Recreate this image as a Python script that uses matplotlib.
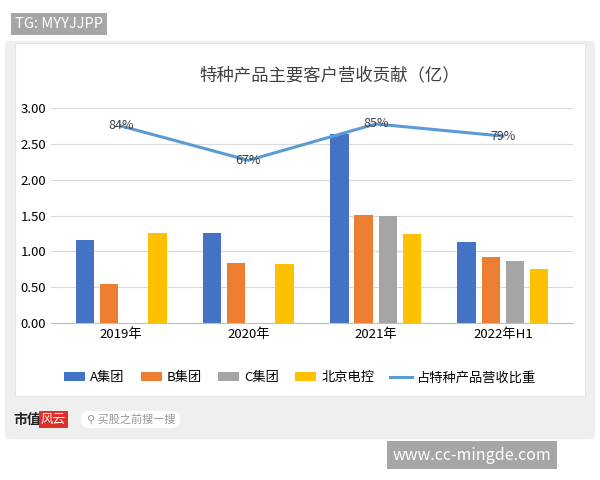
import matplotlib
matplotlib.use("Agg")
import matplotlib.pyplot as plt
from matplotlib.patches import Rectangle, FancyBboxPatch
import numpy as np

plt.rcParams['font.family'] = ['Noto Sans CJK SC', 'DejaVu Sans']

categories = ['2019年', '2020年', '2021年', '2022年H1']
series_names = ['A集团', 'B集团', 'C集团', '北京电控']
a_vals = [1.16, 1.25, 2.64, 1.13]
b_vals = [0.54, 0.84, 1.51, 0.92]
c_vals = [0.0, 0.0, 1.50, 0.86]
bj_vals = [1.26, 0.83, 1.24, 0.75]
share_pct = [84, 67, 85, 79]
line_name = '占特种产品营收比重'
colors = ['#4472C4', '#ED7D31', '#A5A5A5', '#FFC000']
line_color = '#5B9BD5'

fig = plt.figure(figsize=(6, 4.8), dpi=100)
fig.patch.set_facecolor('white')
fig.add_artist(FancyBboxPatch((0.008, 0.085), 0.984, 0.83, boxstyle='round,pad=0,rounding_size=0.01',
                              transform=fig.transFigure, fc='#EFEFEF', ec='none', zorder=0))
fig.add_artist(Rectangle((0.025, 0.175), 0.95, 0.735, transform=fig.transFigure,
                         fc='white', ec='#E6E6E6', lw=0.8, zorder=0))

ax = fig.add_axes([0.085, 0.327, 0.87, 0.448])
x = np.arange(len(categories))
w = 0.145
for i, (vals, name) in enumerate(zip([a_vals, b_vals, c_vals, bj_vals], series_names)):
    ax.bar(x + (i - 1.5) * 0.19, vals, w, color=colors[i], label=name, zorder=2)
ax.set_ylim(0, 3.0)
ax.set_yticks(np.arange(0, 3.01, 0.5))
ax.set_yticklabels([f'{v:.2f}' for v in np.arange(0, 3.01, 0.5)], fontsize=9.5)
ax.set_xticks(x)
ax.set_xticklabels(categories, fontsize=9.5)
ax.set_xlim(-0.55, 3.55)
ax.grid(axis='y', color='#D9D9D9', lw=0.8, zorder=0)
for s in ['top', 'right', 'left']:
    ax.spines[s].set_visible(False)
ax.spines['bottom'].set_color('#BFBFBF')
ax.tick_params(length=0)
ax.set_facecolor('none')

ax2 = ax.twinx()
ax2.set_ylim(-13.5, 92.9)
ln, = ax2.plot(x, share_pct, color=line_color, lw=2.2, label=line_name, zorder=3)
for xi, p in zip(x, share_pct):
    ax2.text(xi, p, f'{p}%', ha='center', va='center', fontsize=9, color='#404040', zorder=4)
ax2.axis('off')

h1, l1 = ax.get_legend_handles_labels()
fig.legend(h1 + [ln], l1 + [line_name], loc='center', bbox_to_anchor=(0.5, 0.213), ncol=5,
           frameon=False, fontsize=9.5, handlelength=1.6, columnspacing=1.2, handletextpad=0.4)

fig.text(0.55, 0.843, '特种产品主要客户营收贡献（亿）', ha='center', va='center', fontsize=12.5,
         fontweight='medium', color='#404040')

fig.text(0.025, 0.950, 'TG: MYYJJPP', ha='left', va='center', fontsize=10.5, color='white',
         bbox=dict(boxstyle='square,pad=0.3', fc='#A6A6A6', ec='none'))
fig.text(0.655, 0.052, 'www.cc-mingde.com', ha='left', va='center', fontsize=11.5, color='white',
         bbox=dict(boxstyle='square,pad=0.35', fc='#A6A6A6', ec='none'))
fig.text(0.022, 0.126, '市值', ha='left', va='center', fontsize=10, fontweight='bold', color='#222222')
fig.text(0.068, 0.126, '风云', ha='left', va='center', fontsize=9, color='white',
         bbox=dict(boxstyle='square,pad=0.15', fc='#E0302A', ec='none'))
fig.add_artist(FancyBboxPatch((0.135, 0.108), 0.165, 0.036, boxstyle='round,pad=0,rounding_size=0.015',
                              transform=fig.transFigure, fc='white', ec='none'))
fig.text(0.145, 0.126, '⚲ 买股之前搜一搜', ha='left', va='center', fontsize=8, color='#999999')

fig.savefig('out.png', dpi=100)
